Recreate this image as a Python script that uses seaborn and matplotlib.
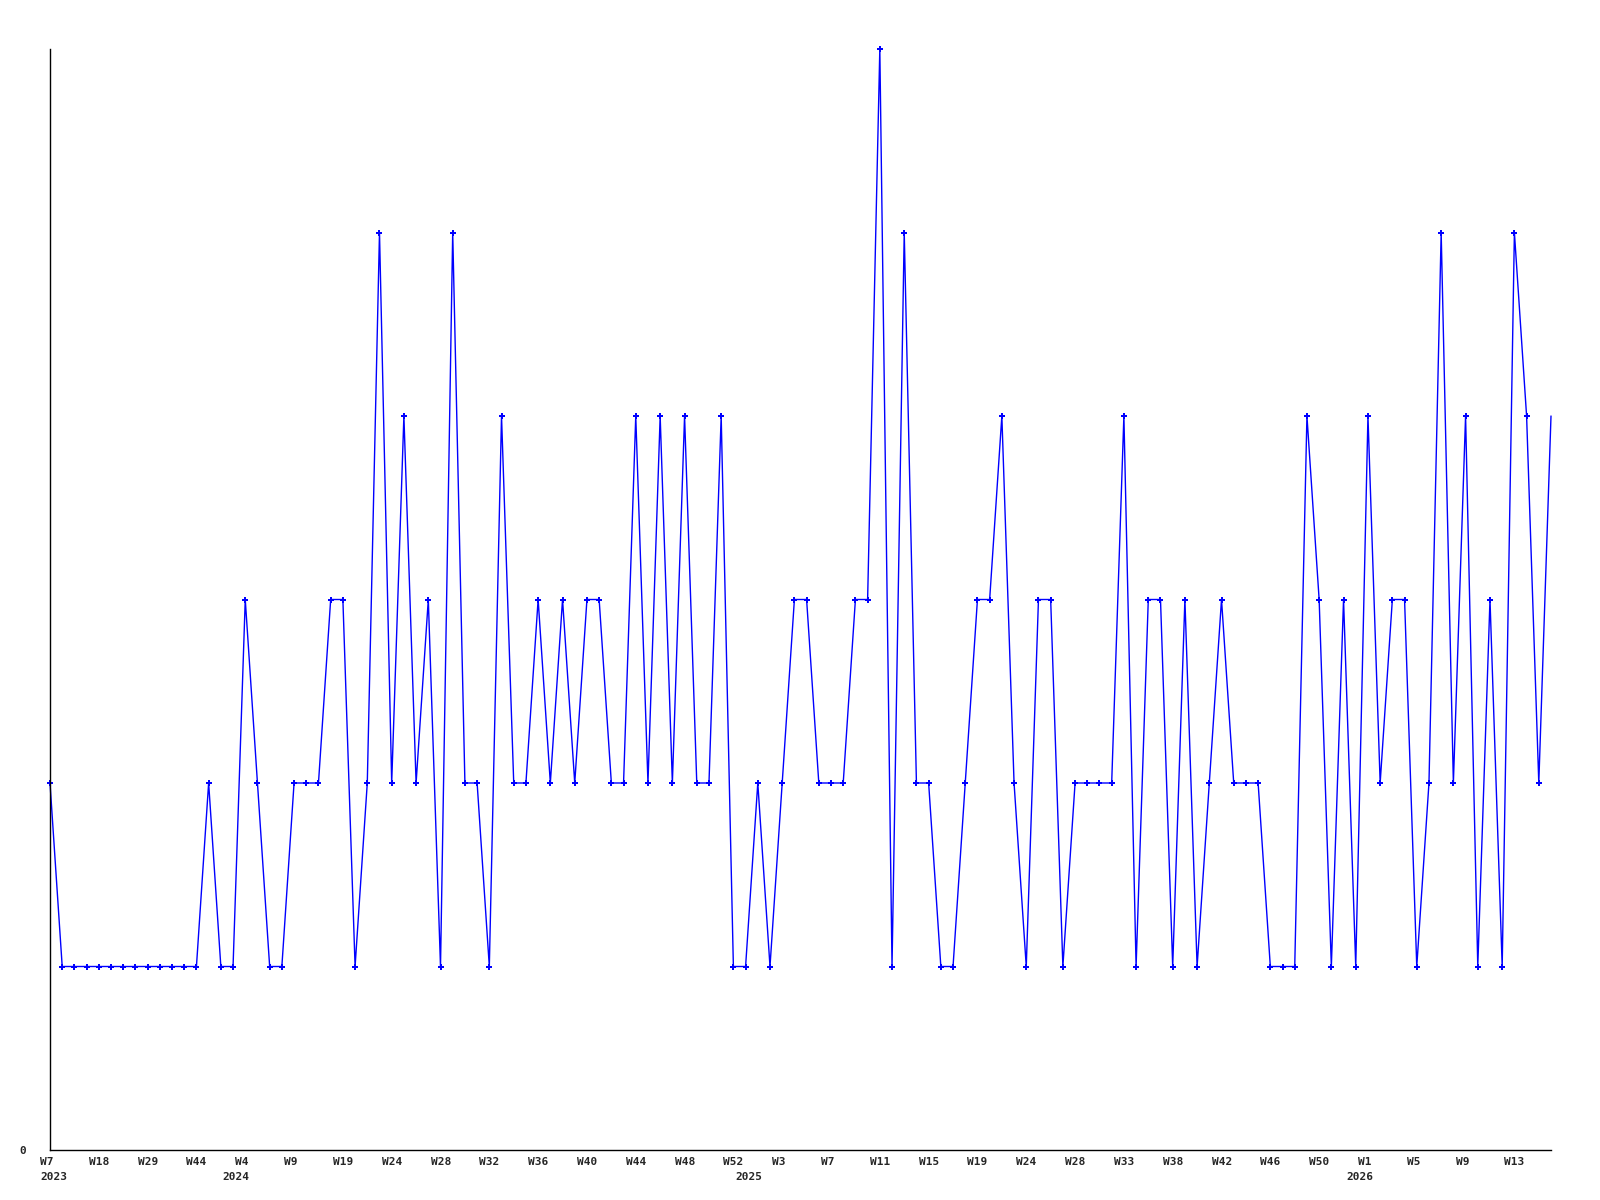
import numpy as np
import matplotlib
matplotlib.use("Agg")
import matplotlib.pyplot as plt
import matplotlib.transforms as mtransforms
import seaborn as sns

sns.set_style("white")
plt.rcParams["font.family"] = ["DejaVu Sans Mono"]

# Weekly counts, one value per data point (categorical x axis)
values = [
    2, 1, 1, 1, 1, 1, 1, 1, 1, 1, 1, 1, 1, 2, 1, 1, 3, 2, 1, 1,
    2, 2, 2, 3, 3, 1, 2, 5, 2, 4, 2, 3, 1, 5, 2, 2, 1, 4, 2, 2,
    3, 2, 3, 2, 3, 3, 2, 2, 4, 2, 4, 2, 4, 2, 2, 4, 1, 1, 2, 1,
    2, 3, 3, 2, 2, 2, 3, 3, 6, 1, 5, 2, 2, 1, 1, 2, 3, 3, 4, 2,
    1, 3, 3, 1, 2, 2, 2, 2, 4, 1, 3, 3, 1, 3, 1, 2, 3, 2, 2, 2,
    1, 1, 1, 4, 3, 1, 3, 1, 4, 2, 3, 3, 1, 2, 5, 2, 4, 1, 3, 1,
    5, 4, 2, 4,
]

# Labels shown on every 4th point
week_labels = [
    "W7", "W18", "W29", "W44", "W4", "W9", "W19", "W24", "W28", "W32",
    "W36", "W40", "W44", "W48", "W52", "W3", "W7", "W11", "W15", "W19",
    "W24", "W28", "W33", "W38", "W42", "W46", "W50", "W1", "W5", "W9", "W13",
]
years = ["2023", "2024", "2025", "2026"]
year_pos = [0.3, 15.2, 57.3, 107.3]

idx = np.arange(len(values))

fig = plt.figure(figsize=(16, 12), dpi=100)
ax = fig.add_axes([50 / 1600, 1 - 1150 / 1200, 1501 / 1600, 1101 / 1200])

sns.lineplot(x=idx, y=values, ax=ax, color="#0000ff", linewidth=1.0,
             marker="P", markersize=4, markeredgewidth=0, clip_on=False,
             markevery=list(range(len(values) - 1)))

ax.set_xlim(0, len(values) - 1)
ax.set_ylim(0, 6)

# ticks: only labels, no tick marks
tick_idx = np.arange(0, len(values), 4)[:len(week_labels)]
ax.set_xticks(tick_idx, week_labels, ha="left", fontsize=8, fontweight="bold")
ax.set_yticks([0], ["0"], fontsize=8, fontweight="bold")
ax.tick_params(axis="x", length=0, pad=5)
ax.tick_params(axis="y", length=0, pad=17)

shift = mtransforms.ScaledTranslation(-0.1, 0, fig.dpi_scale_trans)
for lab in ax.get_xticklabels():
    lab.set_transform(lab.get_transform() + shift)

for yr, pos in zip(years, year_pos):
    ax.annotate(yr, xy=(pos, 0), xycoords=("data", "axes fraction"),
                xytext=(0, -16), textcoords="offset points",
                ha="center", va="top", fontsize=8, fontweight="bold")

sns.despine(ax=ax)
for side in ["left", "bottom"]:
    ax.spines[side].set_color("black")
    ax.spines[side].set_linewidth(1)
ax.set_xlabel("")
ax.set_ylabel("")

fig.savefig("out.png", dpi=100, facecolor="white")
plt.close(fig)
